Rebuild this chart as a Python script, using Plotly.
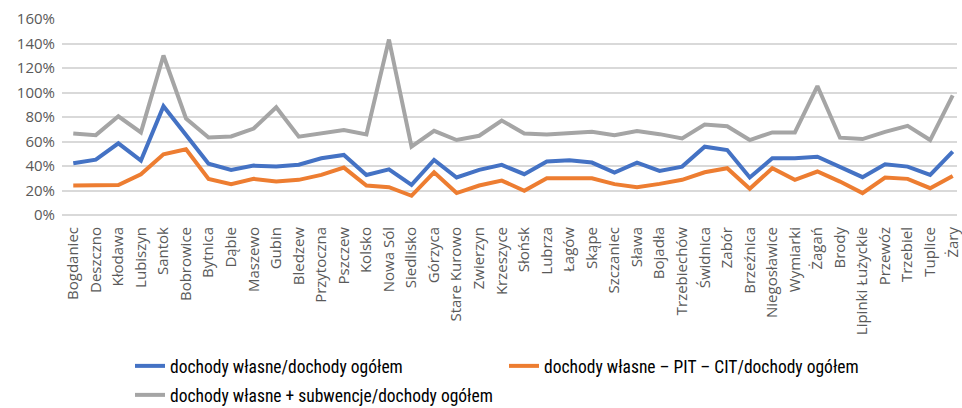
import plotly.graph_objects as go

gminy = ["Bogdaniec", "Deszczno", "Kłodawa", "Lubiszyn", "Santok", "Bobrowice", "Bytnica",
         "Dąbie", "Maszewo", "Gubin", "Bledzew", "Przytoczna", "Pszczew", "Kolsko", "Nowa Sól",
         "Siedlisko", "Górzyca", "Stare Kurowo", "Zwierzyn", "Krzeszyce", "Słońsk", "Lubrza",
         "Łagów", "Skąpe", "Szczaniec", "Sława", "Bojadła", "Trzebiechów", "Świdnica", "Zabór",
         "Brzeźnica", "Niegosławice", "Wymiarki", "Żagań", "Brody", "Lipinki Łużyckie",
         "Przewóz", "Trzebiel", "Tuplice", "Żary"]

# udział w dochodach ogółem, %
wlasne = [42.2, 45.2, 58.5, 44.4, 88.8, 65.2, 41.9, 36.8, 40.3, 39.5,
          41.1, 46.3, 49.0, 32.7, 37.3, 24.6, 44.9, 30.6, 36.8, 40.9,
          33.3, 43.6, 44.7, 42.8, 34.6, 42.8, 36.0, 39.5, 55.8, 53.0,
          30.6, 46.3, 46.3, 47.6, 39.5, 30.9, 41.4, 39.5, 32.7, 51.7]
wlasne_bez_pit_cit = [24.1, 24.6, 24.4, 33.3, 49.5, 53.6, 29.5, 25.2, 29.5, 27.3,
                      28.7, 32.7, 38.7, 24.1, 22.7, 15.7, 34.9, 17.9, 24.1, 28.1,
                      19.8, 30.0, 30.0, 30.0, 25.2, 22.7, 25.4, 28.7, 34.9, 38.2,
                      21.4, 38.2, 28.7, 35.5, 27.3, 17.9, 30.6, 29.5, 21.9, 31.9]
wlasne_z_subwencja = [66.6, 65.2, 80.6, 67.4, 130.2, 78.8, 63.3, 64.1, 70.6, 88.0,
                      63.9, 66.6, 69.3, 65.8, 143.2, 55.8, 68.7, 61.2, 64.7, 77.1,
                      66.6, 65.8, 66.6, 67.9, 65.2, 68.5, 66.0, 62.5, 73.9, 72.5,
                      61.2, 67.4, 67.4, 105.3, 63.1, 62.0, 67.9, 72.8, 61.2, 97.7]

y_ticks = [0, 20, 40, 60, 80, 100, 120, 140, 160]

W, H = 962, 408

# name, values, colour, legend id, legend entry position (px from top-left)
seria = [
    ("dochody własne + subwencje/dochody ogółem", wlasne_z_subwencja, "#A5A5A5", "legend3", (130, 395)),
    ("dochody własne/dochody ogółem", wlasne, "#4472C4", "legend", (130, 366)),
    ("dochody własne – PIT – CIT/dochody ogółem", wlasne_bez_pit_cit, "#ED7D31", "legend2", (504, 366)),
]

tick_font = dict(family="Open Sans, DejaVu Sans, sans-serif", size=15, color="#595959")
legend_font = dict(family="Liberation Sans Narrow, Roboto Condensed, Roboto, sans-serif",
                   size=17.5, color="#000000")

fig = go.Figure()
legends = {}
for name, vals, color, leg, (lx, ly) in seria:
    fig.add_trace(go.Scatter(
        x=gminy, y=vals, name=name, mode="lines",
        line=dict(color=color, width=4),
        legend=leg,
    ))
    legends[leg] = dict(
        orientation="h", x=lx / W, xanchor="left", xref="container",
        y=1 - ly / H, yanchor="middle", yref="container",
        font=legend_font, itemwidth=30, bgcolor="rgba(0,0,0,0)",
    )

fig.update_layout(
    width=W, height=H,
    margin=dict(l=62, r=0, t=19, b=193),
    plot_bgcolor="white", paper_bgcolor="white",
    showlegend=True,
    xaxis=dict(
        type="category", range=[-0.5, 39.19],
        tickangle=-90, tickfont=tick_font, ticklabelstandoff=8,
        showgrid=False, showline=False, ticks="",
    ),
    yaxis=dict(
        range=[0, 160], tickvals=y_ticks,
        ticktext=[f"{v}%" for v in y_ticks],
        tickfont=tick_font, ticklabelstandoff=6,
        showgrid=True, gridcolor="#D9D9D9", gridwidth=1.5,
        zeroline=True, zerolinecolor="#D9D9D9", zerolinewidth=1.5,
        showline=False, ticks="",
    ),
    **legends,
)

fig.write_html("out.html")
